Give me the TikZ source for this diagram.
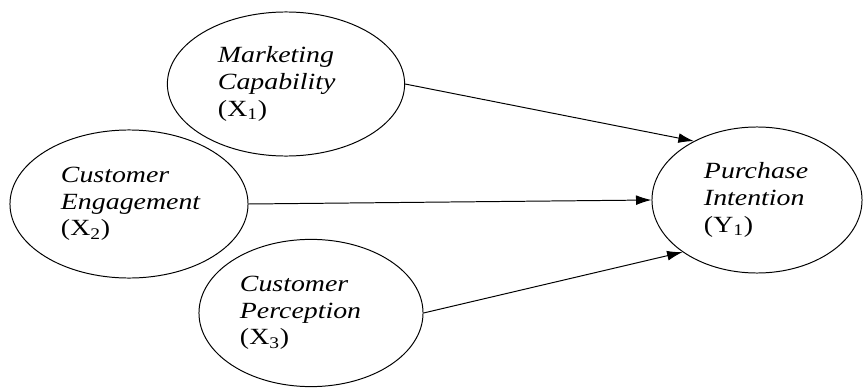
\documentclass[tikz,border=0pt]{standalone}
\usepackage{fontspec}
\setmainfont{Liberation Serif}[FakeStretch=1.2]
\usetikzlibrary{shapes.geometric, arrows.meta}

\begin{document}
\begin{tikzpicture}[x=0.025cm, y=-0.025cm, >={Latex[length=11pt,width=7pt]},
  construct/.style={draw, ellipse, line width=0.7pt, inner sep=0pt, align=left,
    font=\fontsize{16.5}{19}\selectfont}]
  \useasboundingbox (0,0) rectangle (864,388);
  % exogenous constructs
  \node[construct, minimum width=5.93cm, minimum height=3.6cm, text width=3.4cm] (X1) at (286,84)
    {\textit{Marketing}\\ \textit{Capability}\\ (X\textsubscript{1})};
  \node[construct, minimum width=5.95cm, minimum height=3.7cm, text width=3.4cm] (X2) at (129,204)
    {\textit{Customer}\\ \textit{Engagement}\\ (X\textsubscript{2})};
  \node[construct, minimum width=5.6cm, minimum height=3.68cm, text width=3.55cm] (X3) at (311,313)
    {\textit{Customer}\\ \textit{Perception}\\ (X\textsubscript{3})};
  % endogenous construct
  \node[construct, minimum width=5.25cm, minimum height=3.65cm, text width=2.65cm] (Y1) at (757,200)
    {\textit{Purchase}\\ \textit{Intention}\\ (Y\textsubscript{1})};
  % paths
  \draw[->, line width=0.7pt] (X1.east) -- (Y1.137);
  \draw[->, line width=0.7pt] (X2.east) -- (Y1.west);
  \draw[->, line width=0.7pt] (X3.east) -- (Y1.215);
\end{tikzpicture}
\end{document}
